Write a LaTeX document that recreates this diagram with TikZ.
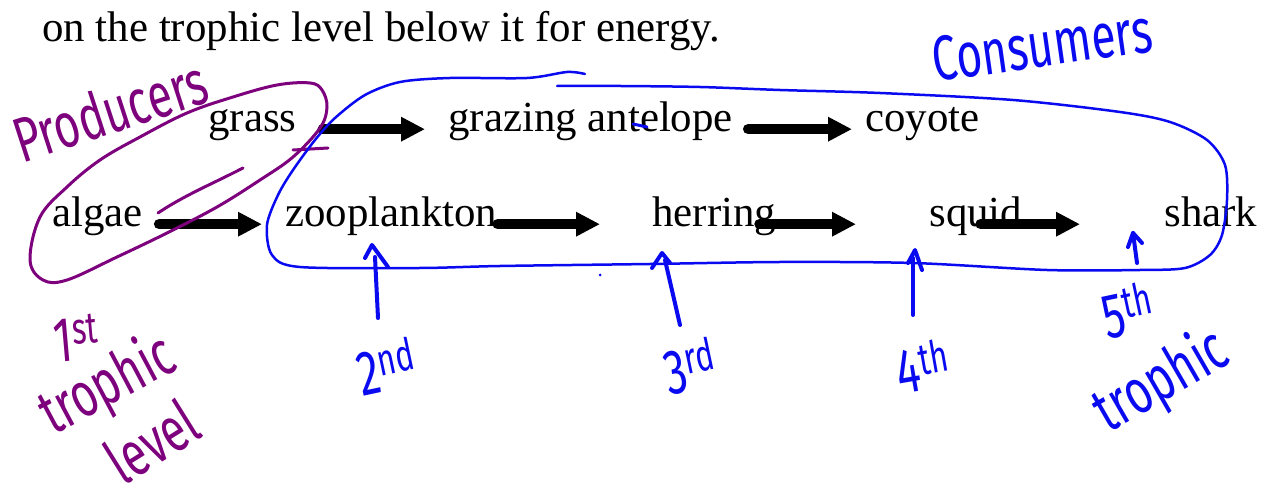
\documentclass[tikz,border=0pt]{standalone}
\usepackage{fontspec}
\setmainfont{Liberation Serif}
\newfontfamily\hand{Fira Sans}
\usetikzlibrary{arrows.meta,positioning}
\definecolor{penpurple}{RGB}{125,0,125}
\definecolor{penblue}{RGB}{10,10,240}
\newcommand\orgfont{\fontsize{24.4}{29}\selectfont}
\newcommand\handfont{\hand\fontsize{36}{36}\selectfont}
\newcommand\narrowed[1]{\scalebox{0.7}[1]{#1}}

\begin{document}
\begin{tikzpicture}[
    x=0.02cm, y=-0.02cm,
    organism/.style={font=\orgfont, inner sep=0pt, anchor=base west, text height=0.52em, text depth=0.2em},
    arrow/.style={-{Triangle[length=4.8mm,width=4.6mm]}, line width=2.1mm, line cap=round},
    hand/.style={font=\handfont, inner sep=0pt},
    purplepen/.style={draw=penpurple, line width=0.6mm, line cap=round, line join=round},
    bluepen/.style={draw=penblue, line width=0.8mm, line cap=round, line join=round}
]
    \useasboundingbox (0,0) rectangle (1270,499);

    % Caption
    \node[organism] (caption) at (42,42) {on the trophic level below it for energy.};

    % Food chains
    \node[organism] (grass) at (208,132) {grass};
    \node[organism] (antelope) at (448,132) {grazing antelope};
    \node[organism] (coyote) at (865,132) {coyote};
    \node[organism] (algae) at (52,227) {algae};
    \node[organism] (zooplankton) at (285,227) {zooplankton};
    \node[organism] (herring) at (652,227) {herring};
    \node[organism] (squid) at (929,227) {squid};
    \node[organism] (shark) at (1164,227) {shark};

    % Edges
    \draw[arrow, shorten <=5.2mm, shorten >=4.6mm] (grass) -- (antelope);
    \draw[arrow, shorten <=3mm, shorten >=2.6mm] (antelope) -- (coyote);
    \draw[arrow, shorten <=3.2mm, shorten >=4.6mm] (algae) -- (zooplankton);
    \draw[arrow, shorten <=0mm, shorten >=10.4mm] (zooplankton) -- (herring);
    \draw[arrow, shorten <=-3.4mm, shorten >=14.6mm] (herring) -- (squid);
    \draw[arrow, shorten <=-8.4mm, shorten >=16.8mm] (squid) -- (shark);

    % Producers (purple pen)
    \draw[purplepen] plot[smooth cycle, tension=0.6] coordinates {
        (30,260) (40,217) (67,187) (100,160) (140,137) (187,113) (233,97)
        (277,85) (310,83) (322,90) (327,107) (320,128) (293,157) (260,180)
        (217,207) (167,233) (117,257) (67,280) (43,280)};
    \draw[purplepen] (158,213) .. controls (185,195) and (210,185) .. (243,168);
    \draw[purplepen] (293,150) -- (328,148);
    \node[hand, text=penpurple, rotate=18] (producers) at (110,110) {\narrowed{Producers}};
    \node[hand, text=penpurple, rotate=5] (first) at (76,338) {\narrowed{1\textsuperscript{st}}};
    \node[hand, text=penpurple, rotate=28] (firsttrophic) at (108,386) {\narrowed{trophic}};
    \node[hand, text=penpurple, rotate=32] (firstlevel) at (152,441) {\narrowed{level}};

    % Consumers (blue pen)
    \draw[bluepen, line width=0.5mm] plot[smooth, tension=0.5] coordinates {
        (557,86) (620,86) (700,87) (780,90) (880,93) (1013,100) (1120,112)
        (1170,122) (1207,140) (1225,165) (1227,200) (1222,235) (1210,255)
        (1185,268) (1140,270) (1047,270) (913,263) (780,262) (650,264)
        (500,266) (420,268) (300,267) (272,255) (267,225) (278,195) (293,170)
        (315,140) (335,118) (365,95) (400,82) (450,78) (527,78) (567,72) (585,74)};
    \draw[bluepen, line width=0.6mm] (633,124) -- (647,127);
    \fill[penblue] (600,275) circle (1.5);
    \node[hand, text=penblue, rotate=8] (consumers) at (1042,45) {\narrowed{Consumers}};

    % Level marks
    \draw[bluepen] (365,258) -- (372,245) -- (388,267);
    \draw[bluepen] (375,257) -- (378,318);
    \draw[bluepen] (652,268) -- (662,253) -- (670,263);
    \draw[bluepen] (665,260) -- (680,325);
    \draw[bluepen] (908,263) -- (915,250) -- (922,270);
    \draw[bluepen] (913,258) -- (913,315);
    \draw[bluepen] (1128,247) -- (1133,233) -- (1142,243);
    \draw[bluepen] (1133,233) -- (1137,263);
    \node[hand, text=penblue, rotate=12] (second) at (386,366) {\narrowed{2\textsuperscript{nd}}};
    \node[hand, text=penblue, rotate=12] (third) at (690,366) {\narrowed{3\textsuperscript{rd}}};
    \node[hand, text=penblue, rotate=10] (fourth) at (923,366) {\narrowed{4\textsuperscript{th}}};
    \node[hand, text=penblue, rotate=12] (fifth) at (1128,310) {\narrowed{5\textsuperscript{th}}};
    \node[hand, text=penblue, rotate=30] (fifthtrophic) at (1162,382) {\narrowed{trophic}};
\end{tikzpicture}
\end{document}
